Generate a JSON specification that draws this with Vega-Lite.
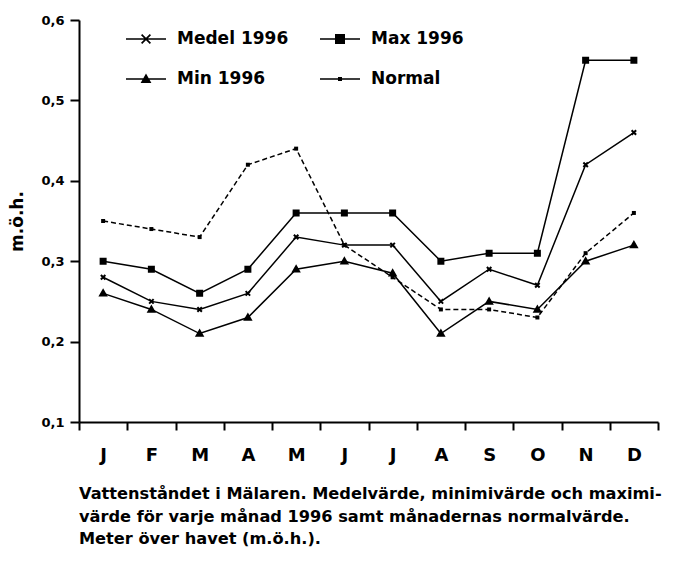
{
  "$schema": "https://vega.github.io/schema/vega-lite/v6.json",
  "width": 579,
  "height": 402,
  "autosize": "none",
  "padding": {"left": 79, "top": 20, "right": 15, "bottom": 139},
  "background": "white",
  "config": {
    "font": "DejaVu Sans",
    "view": {"stroke": null}
  },
  "title": {
    "text": ["Vattenståndet i Mälaren. Medelvärde, minimivärde och maximi-", "värde för varje månad 1996 samt månadernas normalvärde.", "Meter över havet (m.ö.h.)."],
    "orient": "bottom",
    "anchor": "start",
    "frame": "group",
    "font": "DejaVu Sans",
    "fontSize": 16.2,
    "fontWeight": "bold",
    "color": "black",
    "lineHeight": 22.5,
    "offset": 22
  },
  "data": {
    "values": [
      {"month": "Jan", "series": "Medel 1996", "value": 0.28},
      {"month": "Feb", "series": "Medel 1996", "value": 0.25},
      {"month": "Mar", "series": "Medel 1996", "value": 0.24},
      {"month": "Apr", "series": "Medel 1996", "value": 0.26},
      {"month": "Maj", "series": "Medel 1996", "value": 0.33},
      {"month": "Jun", "series": "Medel 1996", "value": 0.32},
      {"month": "Jul", "series": "Medel 1996", "value": 0.32},
      {"month": "Aug", "series": "Medel 1996", "value": 0.25},
      {"month": "Sep", "series": "Medel 1996", "value": 0.29},
      {"month": "Okt", "series": "Medel 1996", "value": 0.27},
      {"month": "Nov", "series": "Medel 1996", "value": 0.42},
      {"month": "Dec", "series": "Medel 1996", "value": 0.46},
      {"month": "Jan", "series": "Max 1996", "value": 0.30},
      {"month": "Feb", "series": "Max 1996", "value": 0.29},
      {"month": "Mar", "series": "Max 1996", "value": 0.26},
      {"month": "Apr", "series": "Max 1996", "value": 0.29},
      {"month": "Maj", "series": "Max 1996", "value": 0.36},
      {"month": "Jun", "series": "Max 1996", "value": 0.36},
      {"month": "Jul", "series": "Max 1996", "value": 0.36},
      {"month": "Aug", "series": "Max 1996", "value": 0.30},
      {"month": "Sep", "series": "Max 1996", "value": 0.31},
      {"month": "Okt", "series": "Max 1996", "value": 0.31},
      {"month": "Nov", "series": "Max 1996", "value": 0.55},
      {"month": "Dec", "series": "Max 1996", "value": 0.55},
      {"month": "Jan", "series": "Min 1996", "value": 0.26},
      {"month": "Feb", "series": "Min 1996", "value": 0.24},
      {"month": "Mar", "series": "Min 1996", "value": 0.21},
      {"month": "Apr", "series": "Min 1996", "value": 0.23},
      {"month": "Maj", "series": "Min 1996", "value": 0.29},
      {"month": "Jun", "series": "Min 1996", "value": 0.30},
      {"month": "Jul", "series": "Min 1996", "value": 0.285},
      {"month": "Aug", "series": "Min 1996", "value": 0.21},
      {"month": "Sep", "series": "Min 1996", "value": 0.25},
      {"month": "Okt", "series": "Min 1996", "value": 0.24},
      {"month": "Nov", "series": "Min 1996", "value": 0.30},
      {"month": "Dec", "series": "Min 1996", "value": 0.32},
      {"month": "Jan", "series": "Normal", "value": 0.35},
      {"month": "Feb", "series": "Normal", "value": 0.34},
      {"month": "Mar", "series": "Normal", "value": 0.33},
      {"month": "Apr", "series": "Normal", "value": 0.42},
      {"month": "Maj", "series": "Normal", "value": 0.44},
      {"month": "Jun", "series": "Normal", "value": 0.32},
      {"month": "Jul", "series": "Normal", "value": 0.28},
      {"month": "Aug", "series": "Normal", "value": 0.24},
      {"month": "Sep", "series": "Normal", "value": 0.24},
      {"month": "Okt", "series": "Normal", "value": 0.23},
      {"month": "Nov", "series": "Normal", "value": 0.31},
      {"month": "Dec", "series": "Normal", "value": 0.36}
    ]
  },
  "encoding": {
    "x": {
      "field": "month",
      "type": "ordinal",
      "scale": {"domain": ["Jan","Feb","Mar","Apr","Maj","Jun","Jul","Aug","Sep","Okt","Nov","Dec"], "paddingInner": 0, "paddingOuter": 0},
      "axis": {
        "title": null,
        "labelAngle": 0,
        "labelExpr": "substring(datum.label, 0, 1)",
        "labelFont": "DejaVu Sans",
        "labelFontSize": 18,
        "labelFontWeight": "bold",
        "labelColor": "black",
        "labelPadding": 16,
        "tickBand": "extent",
        "tickSize": 8,
        "tickColor": "black",
        "tickWidth": 2,
        "domainColor": "black",
        "domainWidth": 2,
        "grid": false
      }
    },
    "y": {
      "field": "value",
      "type": "quantitative",
      "scale": {"domain": [0.1, 0.6], "nice": false},
      "axis": {
        "title": "m.ö.h.",
        "titleFont": "DejaVu Sans",
        "titleFontSize": 17,
        "titleFontWeight": "bold",
        "titleColor": "black",
        "titlePadding": 14,
        "values": [0.1, 0.2, 0.3, 0.4, 0.5, 0.6],
        "labelExpr": "replace(format(datum.value, '.1f'), '.', ',')",
        "labelFont": "DejaVu Sans",
        "labelFontSize": 13,
        "labelFontWeight": "bold",
        "labelColor": "black",
        "labelPadding": 6,
        "tickSize": 9,
        "tickColor": "black",
        "tickWidth": 2,
        "domainColor": "black",
        "domainWidth": 2,
        "grid": false
      }
    }
  },
  "layer": [
    {
      "transform": [{"filter": "datum.series !== 'Normal'"}],
      "mark": {"type": "line", "color": "black", "strokeWidth": 1.5},
      "encoding": {"detail": {"field": "series"}}
    },
    {
      "transform": [{"filter": "datum.series === 'Normal'"}],
      "mark": {"type": "line", "color": "black", "strokeWidth": 1.5, "strokeDash": [5, 3]},
      "encoding": {}
    },
    {
      "mark": {"type": "point", "filled": true, "color": "black", "stroke": "black", "strokeWidth": 2, "opacity": 1, "size": 100},
      "encoding": {
        "shape": {
          "field": "series",
          "type": "nominal",
          "scale": {
            "domain": ["Medel 1996", "Max 1996", "Min 1996", "Normal"],
            "range": ["M-0.45,-0.45L0.45,0.45M-0.45,0.45L0.45,-0.45", "M-0.5,-0.5H0.5V0.5H-0.5Z", "M0,-0.6L0.6,0.45H-0.6Z", "M-0.2,-0.2H0.2V0.2H-0.2Z"]
          },
          "legend": null
        }
      }
    },
    {
      "mark": {"type": "point", "filled": true, "color": "black", "opacity": 0, "size": 100},
      "encoding": {
        "shape": {
          "field": "series",
          "type": "nominal",
          "scale": {
            "domain": ["Medel 1996", "Max 1996", "Min 1996", "Normal"],
            "range": [
              "M-1,-0.035H1V0.035H-1ZM-0.25,-0.19L-0.19,-0.25L0.25,0.19L0.19,0.25ZM0.19,-0.25L0.25,-0.19L-0.19,0.25L-0.25,0.19Z",
              "M-1,-0.035H1V0.035H-1ZM-0.25,-0.25H0.25V0.25H-0.25Z",
              "M-1,-0.035H1V0.035H-1ZM0,-0.28L0.27,0.2H-0.27Z",
              "M-1,-0.035H1V0.035H-1ZM-0.1,-0.1H0.1V0.1H-0.1Z"
            ]
          },
          "legend": {
            "title": null,
            "orient": "none",
            "legendX": 46,
            "legendY": -2,
            "direction": "horizontal",
            "columns": 2,
            "columnPadding": 28,
            "rowPadding": 11,
            "symbolSize": 1600,
            "symbolOpacity": 1,
            "symbolFillColor": "black",
            "labelFont": "DejaVu Sans",
            "labelFontSize": 17,
            "labelFontWeight": "bold",
            "labelColor": "black",
            "labelOffset": 10
          }
        }
      }
    }
  ],
  "resolve": {"scale": {"shape": "independent"}, "legend": {"shape": "independent"}}
}
